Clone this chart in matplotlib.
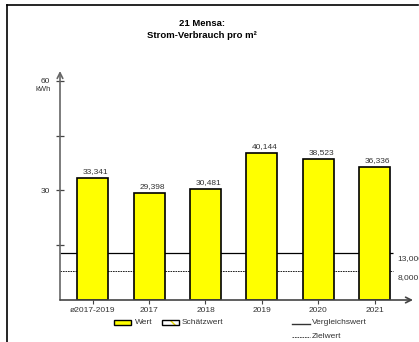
import matplotlib.pyplot as plt
from matplotlib.lines import Line2D
from matplotlib.patches import Rectangle

categories = ["ø2017-2019", "2017", "2018", "2019", "2020", "2021"]
values = [33.341, 29.398, 30.481, 40.144, 38.523, 36.336]
value_labels = ["33,341", "29,398", "30,481", "40,144", "38,523", "36,336"]
vergleichswert = 13.0
zielwert = 8.0
ref_labels = ["13,000", "8,000"]

plt.rcParams["font.family"] = ["Liberation Sans", "DejaVu Sans"]
TXT = "#333333"

W, H = 419, 342
fig = plt.figure(figsize=(W / 100, H / 100), dpi=100)


def fx(px):
    return px / W


def fy(py):
    return 1 - py / H


ax = fig.add_axes([fx(60), fy(300), fx(413) - fx(60), fy(71) - fy(300)])
x_left, x_right = -0.58, 5.68
ax.set_xlim(x_left, x_right)
ax.set_ylim(0, 62.7)
for s in ax.spines.values():
    s.set_visible(False)

xs = range(len(categories))
ax.bar(xs, values, width=0.55, color="#FFFF00", edgecolor="black", linewidth=1.2, zorder=3)
for x, v, lab in zip(xs, values, value_labels):
    ax.text(x + 0.05, v + 0.8, lab, ha="center", va="bottom", fontsize=6, color=TXT)

# reference lines
line_end = 5.32
ax.hlines(vergleichswert, x_left, line_end, color="black", linewidth=0.9, zorder=2)
ax.hlines(zielwert, x_left, line_end, color="black", linewidth=0.6, linestyle=(0, (2, 1)), zorder=2)
ax.text(5.40, vergleichswert - 0.8, ref_labels[0], ha="left", va="top", fontsize=6, color=TXT, clip_on=False)
ax.text(5.40, zielwert - 0.8, ref_labels[1], ha="left", va="top", fontsize=6, color=TXT, clip_on=False)

# axes with arrows
ax.annotate("", xy=(0, 1), xytext=(0, 0), xycoords="axes fraction",
            arrowprops=dict(arrowstyle="->", color="#666666", lw=1.2, shrinkA=0, shrinkB=0))
ax.annotate("", xy=(1, 0), xytext=(0, 0), xycoords="axes fraction",
            arrowprops=dict(arrowstyle="->", color="#444444", lw=1.2, shrinkA=0, shrinkB=0))

ax.set_yticks([15, 30, 45, 60])
ax.set_yticklabels(["", "30", "", "60"], fontsize=6, color=TXT)
ax.tick_params(axis="y", direction="inout", length=6, width=0.9, color="#444444", pad=4)
ax.set_xticks(list(xs))
ax.set_xticklabels(categories, fontsize=6, color=TXT)
ax.tick_params(axis="x", direction="out", length=3, width=0.8, color="#444444", pad=2)
fig.text(fx(51), fy(90), "kWh", ha="right", va="center", fontsize=5.5, color=TXT)

fig.text(fx(202), fy(24), "21 Mensa:", ha="center", va="center", fontsize=6.8, fontweight="bold")
fig.text(fx(202), fy(35), "Strom-Verbrauch pro m²", ha="center", va="center", fontsize=6.8, fontweight="bold")

# frame
fig.add_artist(Line2D([fx(7), fx(418)], [fy(5), fy(5)], color="black", lw=1.2))
fig.add_artist(Line2D([fx(7), fx(7)], [fy(5), 0], color="black", lw=1.2))

# legend
fig.add_artist(Rectangle((fx(114), fy(325)), fx(17), fy(320) - fy(325),
                         facecolor="#FFFF00", edgecolor="black", lw=1.0))
fig.text(fx(135), fy(322.5), "Wert", ha="left", va="center", fontsize=6, color=TXT)
fig.add_artist(Rectangle((fx(162), fy(325)), fx(17), fy(320) - fy(325),
                         facecolor="white", edgecolor="#E8D800", lw=0, hatch="\\\\"))
fig.add_artist(Rectangle((fx(162), fy(325)), fx(17), fy(320) - fy(325),
                         facecolor="none", edgecolor="black", lw=1.0))
fig.text(fx(182), fy(322.5), "Schätzwert", ha="left", va="center", fontsize=6, color=TXT)
fig.add_artist(Line2D([fx(292), fx(310)], [fy(324), fy(324)], color="#333333", lw=1.0))
fig.text(fx(312), fy(323), "Vergleichswert", ha="left", va="center", fontsize=6, color=TXT)
fig.add_artist(Line2D([fx(292), fx(310)], [fy(337), fy(337)], color="#333333", lw=0.6, linestyle=(0, (2, 1))))
fig.text(fx(312), fy(336), "Zielwert", ha="left", va="center", fontsize=6, color=TXT)

fig.savefig("out.png", dpi=100)
